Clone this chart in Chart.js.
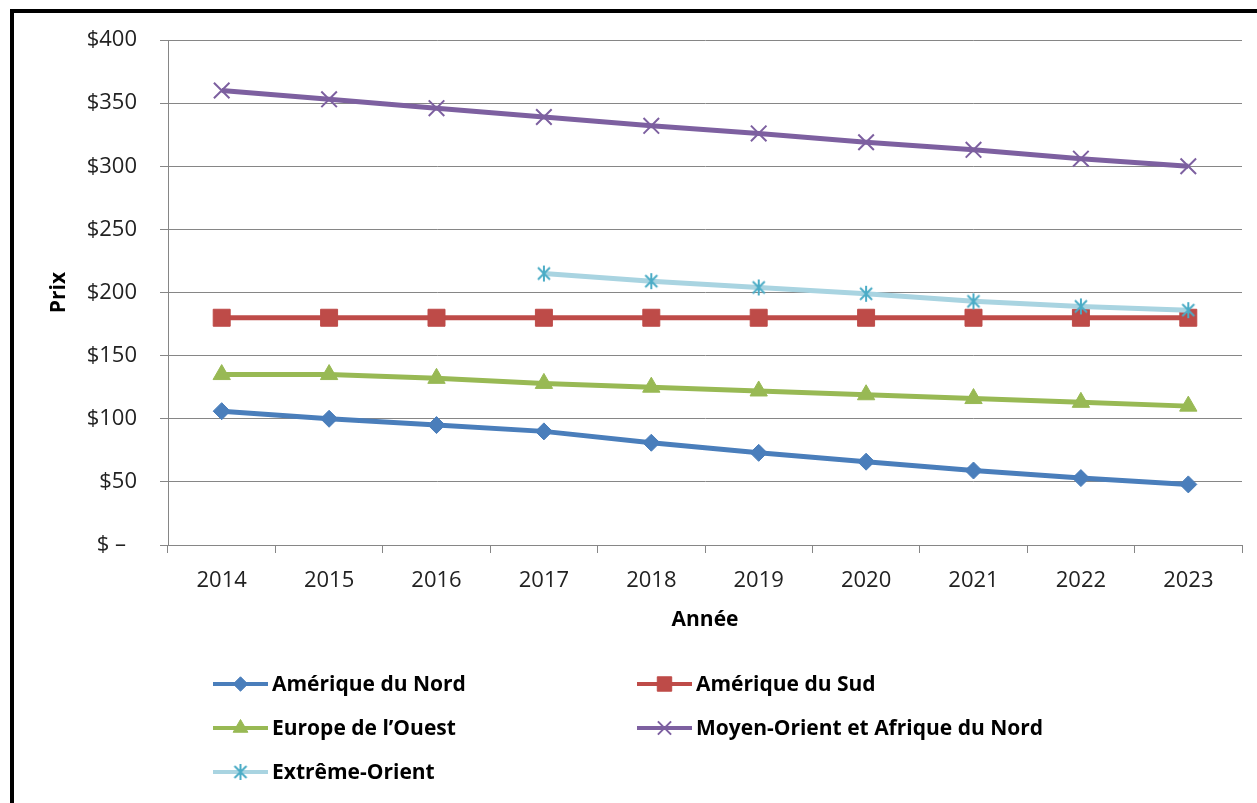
<!DOCTYPE html>
<html>
<head>
<meta charset="utf-8">
<title>Prix par région</title>
<script src="https://cdn.jsdelivr.net/npm/chart.js@4"></script>
<style>
  html, body { margin: 0; padding: 0; background: #fff; }
  #wrap { width: 1257px; height: 803px; position: relative; }
</style>
</head>
<body>
<div id="wrap"><canvas id="c" width="1257" height="803"></canvas></div>
<script>
// Years on the horizontal axis
const years = ['2014', '2015', '2016', '2017', '2018', '2019', '2020', '2021', '2022', '2023'];

// Price series per region
const ameriqueNord   = [106, 100, 95, 90, 81, 73, 66, 59, 53, 48];
const ameriqueSud    = [180, 180, 180, 180, 180, 180, 180, 180, 180, 180];
const europeOuest    = [135, 135, 132, 128, 125, 122, 119, 116, 113, 110];
const moyenOrient    = [360, 353, 346, 339, 332, 326, 319, 313, 306, 300];
const extremeOrient  = [null, null, null, 215, 209, 204, 199, 193, 189, 186];

// Vertical axis range
const yMin = 0, yMax = 400, yStep = 50;

const FONT = '"Open Sans", "DejaVu Sans", sans-serif';

// Asterisk marker (vertical bar + diagonal cross)
function asteriskMarker(color) {
  const s = 18, c = document.createElement('canvas');
  c.width = s; c.height = s;
  const g = c.getContext('2d');
  g.strokeStyle = color; g.lineWidth = 2; g.lineCap = 'butt';
  g.beginPath();
  g.moveTo(s / 2, 1); g.lineTo(s / 2, s - 1);
  g.moveTo(3, 3); g.lineTo(s - 3, s - 3);
  g.moveTo(s - 3, 3); g.lineTo(3, s - 3);
  g.stroke();
  return c;
}
const starImg = asteriskMarker('#4BACC6');

function series(label, data, line, marker, style, radius, order, extra) {
  return Object.assign({
    label, data,
    borderColor: line,
    backgroundColor: marker,
    pointBackgroundColor: marker,
    pointBorderColor: marker,
    pointStyle: style,
    pointRadius: radius,
    pointHoverRadius: radius,
    pointBorderWidth: 1,
    borderWidth: 5,
    tension: 0,
    spanGaps: false,
    order
  }, extra || {});
}

const datasets = [
  series('Amérique du Nord', ameriqueNord, '#4A7EBB', '#4A7EBB', 'rectRot', 8.5, 5),
  series('Amérique du Sud', ameriqueSud, '#BE4B48', '#BE4B48', 'rect', 12, 4),
  series('Europe de l\u2019Ouest', europeOuest, '#98B954', '#98B954', 'triangle', 10, 3),
  series('Moyen-Orient et Afrique du Nord', moyenOrient, '#7D60A0', '#7D60A0', 'crossRot', 11, 2, { pointBorderWidth: 2 }),
  series('Extrême-Orient', extremeOrient, '#A9D4E1', '#4BACC6', starImg, 9, 1, { borderWidth: 5 })
];

// Legend layout: two columns, three rows
const legendSlots = [
  { x: 213, y: 684 }, { x: 637, y: 684 },
  { x: 213, y: 728 }, { x: 637, y: 728 },
  { x: 213, y: 772 }
];

const framePlugin = {
  id: 'frameAndLegend',
  beforeDraw(chart) {
    const ctx = chart.ctx;
    ctx.save();
    ctx.fillStyle = '#ffffff';
    ctx.fillRect(0, 0, chart.width, chart.height);
    ctx.restore();
  },
  afterDraw(chart) {
    const ctx = chart.ctx;
    ctx.save();
    // outer frame (left and top edges)
    ctx.fillStyle = '#000';
    ctx.fillRect(10, 9, 4, chart.height - 9);
    ctx.fillRect(10, 9, chart.width - 10, 4);

    // legend entries
    chart.data.datasets.forEach((ds, i) => {
      const slot = legendSlots[i];
      const x0 = slot.x, x1 = slot.x + 55, y = slot.y;
      ctx.strokeStyle = ds.borderColor;
      ctx.lineWidth = 4;
      ctx.beginPath();
      ctx.moveTo(x0, y); ctx.lineTo(x1, y);
      ctx.stroke();
      ctx.fillStyle = ds.pointBackgroundColor;
      ctx.strokeStyle = ds.pointBorderColor;
      ctx.lineWidth = ds.pointBorderWidth;
      Chart.helpers.drawPoint(ctx, {
        pointStyle: ds.pointStyle,
        rotation: 0,
        radius: ds.pointRadius * 0.85,
        borderWidth: ds.pointBorderWidth
      }, (x0 + x1) / 2, y);
      ctx.fillStyle = '#000';
      ctx.font = 'bold 21px ' + FONT;
      ctx.textAlign = 'left';
      ctx.textBaseline = 'middle';
      ctx.fillText(ds.label, x1 + 4, y + 1);
    });
    ctx.restore();
  }
};

new Chart(document.getElementById('c'), {
  type: 'line',
  data: { labels: years, datasets },
  plugins: [framePlugin],
  options: {
    responsive: false,
    animation: false,
    devicePixelRatio: 1,
    layout: { padding: { top: 40, left: 40, right: 15, bottom: 163 } },
    plugins: {
      legend: { display: false },
      tooltip: { enabled: false }
    },
    scales: {
      x: {
        type: 'category',
        offset: true,
        grid: {
          offset: true,
          drawOnChartArea: false,
          drawTicks: true,
          tickLength: 8,
          color: '#868686',
          lineWidth: 1
        },
        border: { display: true, color: '#868686', width: 1 },
        ticks: {
          color: '#222',
          font: { family: FONT, size: 22 },
          padding: 15,
          maxRotation: 0
        },
        title: {
          display: true,
          text: 'Année',
          color: '#000',
          font: { family: FONT, size: 21, weight: 'bold' },
          padding: { top: 6, bottom: 7 }
        },
        afterFit(scale) { scale.height = 95; }
      },
      y: {
        min: yMin,
        max: yMax,
        grid: {
          color: '#868686',
          lineWidth: 1,
          drawTicks: true,
          tickLength: 8
        },
        border: { display: true, color: '#868686', width: 1 },
        ticks: {
          stepSize: yStep,
          color: '#222',
          font: { family: FONT, size: 22 },
          padding: 23,
          callback: (v) => v === 0 ? '$ \u2013\u2002' : '$' + v
        },
        title: {
          display: true,
          text: 'Prix',
          color: '#000',
          font: { family: FONT, size: 21, weight: 'bold' },
          padding: { top: 6, bottom: 0 }
        },
        afterFit(scale) { scale.width = 128; }
      }
    }
  }
});
</script>
</body>
</html>
